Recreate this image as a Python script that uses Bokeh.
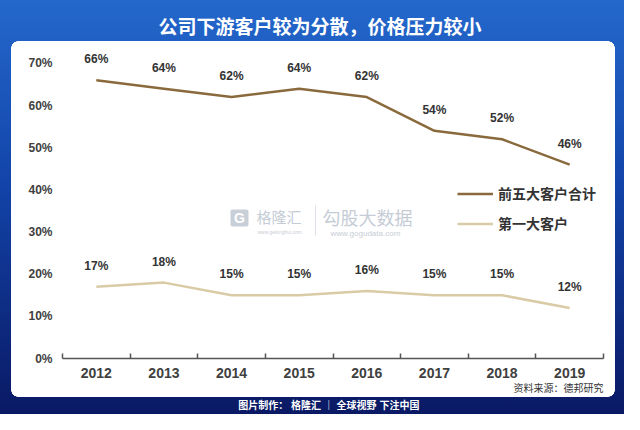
from bokeh.plotting import figure
from bokeh.models import (Range1d, FixedTicker, PrintfTickFormatter,
                          Label, BoxAnnotation, Legend, Title)
from bokeh.core.properties import value
from bokeh.embed import file_html
from bokeh.resources import INLINE

# data
years = ["2012", "2013", "2014", "2015", "2016", "2017", "2018", "2019"]
top5 = [66, 64, 62, 64, 62, 54, 52, 46]
first = [17, 18, 15, 15, 16, 15, 15, 12]
yticks = [0, 10, 20, 30, 40, 50, 60, 70]

title_text = "公司下游客户较为分散，价格压力较小"
series_names = ["前五大客户合计", "第一大客户"]
source_note = "资料来源：德邦研究"
footer_text = "图片制作：  格隆汇  ｜  全球视野 下注中国"

CJK = "Noto Sans CJK SC"
LAT = "Liberation Sans"
MIX = "Liberation Sans, Noto Sans CJK SC"

xs = [i + 0.5 for i in range(len(years))]

# blue gradient page + white rounded card, drawn as css behind a transparent canvas
cx, cy, cw, ch, r = 11, 41, 604, 356, 7
layers = [
    f"linear-gradient(#fff,#fff) {cx + r}px {cy}px / {cw - 2 * r}px {ch}px no-repeat",
    f"linear-gradient(#fff,#fff) {cx}px {cy + r}px / {cw}px {ch - 2 * r}px no-repeat",
]
for ox, oy in [(cx, cy), (cx + cw - 2 * r, cy), (cx, cy + ch - 2 * r),
               (cx + cw - 2 * r, cy + ch - 2 * r)]:
    layers.append(f"radial-gradient(circle at {r}px {r}px, #fff {r - 0.5}px, "
                  f"rgba(255,255,255,0) {r}px) {ox}px {oy}px / {2 * r}px {2 * r}px no-repeat")
layers.append("linear-gradient(180deg, #2468cc 0%, #1243a8 45%, #0a1964 100%)")

p = figure(width=624, height=414,
           x_range=Range1d(0, len(years)), y_range=Range1d(0, 74),
           output_backend="svg", toolbar_location=None,
           min_border_left=62, min_border_right=21,
           min_border_top=46, min_border_bottom=56,
           border_fill_alpha=0, background_fill_alpha=0,
           outline_line_color=None)
p.styles = {"background": ", ".join(layers)}
p.xgrid.visible = False
p.ygrid.visible = False


# screen coords relative to the frame (left 62, 0% line at 358)
def sx(X):
    return X - 62


def sy(Y):
    return 358 - Y


def box(x0, x1, y0, y1, color, radius=0):
    p.add_layout(BoxAnnotation(left=sx(x0), right=sx(x1), top=sy(y0), bottom=sy(y1),
                               left_units="screen", right_units="screen",
                               top_units="screen", bottom_units="screen",
                               fill_color=color, fill_alpha=1, line_alpha=0,
                               border_radius=radius, level="underlay"))


def label(X, Y, text, size, color, font=CJK, style="normal", align="left"):
    p.add_layout(Label(x=sx(X), y=sy(Y), x_units="screen", y_units="screen",
                       text=text, text_font=font, text_font_size=size,
                       text_font_style=style, text_color=color,
                       text_align=align, text_baseline="middle"))


# watermark
box(230, 248, 209, 226, "#c9cfd8", radius=2)
label(239, 217.5, "G", "14px", "white", font=LAT, style="bold", align="center")
label(256, 216, "格隆汇", "15px", "#c5ccd6")
label(257, 231, "www.gelonghui.com", "5px", "#c8cdd5", font=LAT)
box(314.5, 315.5, 205, 235, "#dde1e7")
label(322, 216, "勾股大数据", "18px", "#c5ccd6")
label(330, 233, "www.gogudata.com", "8px", "#c8cdd5", font=LAT)

# lines
r1 = p.line(xs, top5, line_color="#8a6a3c", line_width=2.5)
r2 = p.line(xs, first, line_color="#d8cba6", line_width=2.5)

# data labels
for vals in (top5, first):
    p.text(xs, vals, text=[f"{v}%" for v in vals], text_align="center",
           text_baseline="middle", y_offset=-21, text_font=value(LAT),
           text_font_style="bold", text_font_size="12px", text_color="#333333")

# axes
xa = p.xaxis[0]
xa.ticker = FixedTicker(ticks=xs, minor_ticks=list(range(len(years) + 1)))
xa.major_label_overrides = {x: y for x, y in zip(xs, years)}
xa.axis_line_color = "#555555"
xa.axis_line_width = 1.5
xa.major_tick_in = 0
xa.major_tick_out = 0
xa.minor_tick_in = 5
xa.minor_tick_out = 0
xa.minor_tick_line_color = "#555555"
xa.minor_tick_line_width = 1.5
xa.major_label_standoff = 9
xa.major_label_text_font = LAT
xa.major_label_text_font_style = "bold"
xa.major_label_text_font_size = "14px"
xa.major_label_text_color = "#404040"

ya = p.yaxis[0]
ya.ticker = FixedTicker(ticks=yticks)
ya.formatter = PrintfTickFormatter(format="%d%%")
ya.axis_line_color = None
ya.major_tick_in = 0
ya.major_tick_out = 0
ya.minor_tick_line_color = None
ya.major_label_standoff = 10
ya.major_label_text_font = LAT
ya.major_label_text_font_style = "bold"
ya.major_label_text_font_size = "12px"
ya.major_label_text_color = "#404040"

# legend
legend = Legend(items=[(series_names[0], [r1]), (series_names[1], [r2])],
                location=(sx(457), sy(233)),
                glyph_width=36, glyph_height=17, label_height=17,
                label_standoff=5, spacing=10, padding=0, margin=0,
                border_line_color=None, background_fill_alpha=0,
                label_text_font=CJK, label_text_font_style="bold",
                label_text_font_size="14px", label_text_color="#333333")
p.add_layout(legend)

# header, source note and footer live in the side panels
p.add_layout(Title(text=title_text, align="left", offset=96, standoff=18,
                   text_font=MIX, text_font_size="19px", text_font_style="bold",
                   text_color="white"), "above")
p.add_layout(Title(text=source_note, align="right", standoff=1,
                   text_font=MIX, text_font_size="10px", text_font_style="normal",
                   text_color="#333333"), "below")
p.add_layout(Title(text=footer_text, align="center", standoff=0, padding=3,
                   text_font=MIX, text_font_size="10px", text_font_style="bold",
                   text_color="white"), "below")

open("out.html", "w").write(file_html(p, INLINE))
